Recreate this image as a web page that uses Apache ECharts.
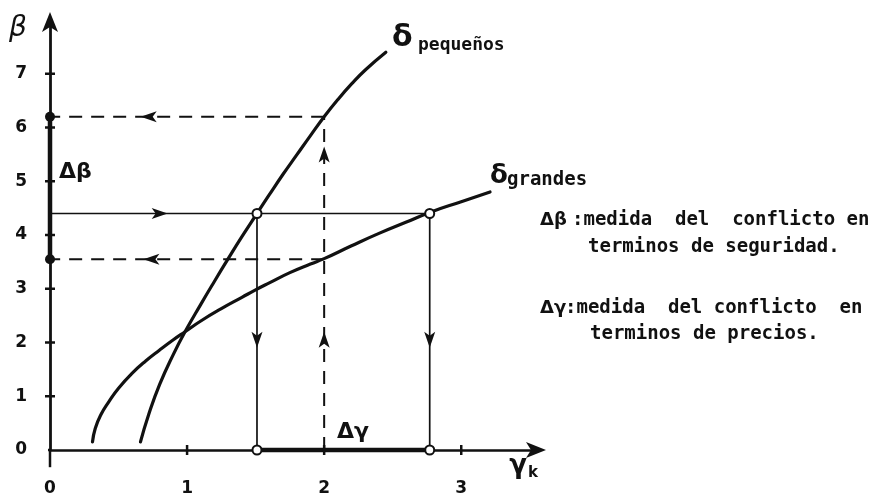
<!DOCTYPE html>
<html>
<head>
<meta charset="utf-8">
<script src="https://cdn.jsdelivr.net/npm/echarts@6/dist/echarts.min.js"></script>
<style>
  html, body { margin: 0; padding: 0; background: #fff; }
  #chart { width: 876px; height: 497px; }
</style>
</head>
<body>
<div id="chart"></div>
<script>
// tick values on both axes
var xTicks = [1, 2, 3];
var yTicks = [1, 2, 3, 4, 5, 6, 7];

// curves: [gamma_k, beta]
var deltaPequenos = [[0.66, 0.15], [0.72, 0.66], [0.8, 1.22], [0.9, 1.78], [0.985, 2.2], [1.1, 2.71],
	[1.2, 3.14], [1.3, 3.56], [1.4, 3.97], [1.51, 4.4], [1.6, 4.75], [1.7, 5.13], [1.8, 5.49],
	[1.9, 5.85], [2.0, 6.2], [2.1, 6.52], [2.2, 6.81], [2.3, 7.07], [2.45, 7.4]];
var deltaGrandes = [[0.31, 0.15], [0.33, 0.4], [0.37, 0.65], [0.43, 0.9], [0.5, 1.15], [0.6, 1.43],
	[0.7, 1.66], [0.8, 1.86], [0.9, 2.05], [0.985, 2.2], [1.1, 2.4], [1.25, 2.63], [1.4, 2.84],
	[1.5, 2.98], [1.6, 3.11], [1.75, 3.3], [1.9, 3.46], [2.0, 3.56], [2.2, 3.8], [2.4, 4.03],
	[2.6, 4.24], [2.77, 4.42], [3.0, 4.62], [3.21, 4.8]];

// construction levels
var gammaLow = 1.51;
var gammaHigh = 2.77;
var gammaPrice = 2;
var betaLevel = 4.4;
var betaHigh = 6.2;
var betaLow = 3.55;

// arrows: [gamma, beta, direction in degrees]
var arrows = [
	[0.8, betaLevel, 0],
	[gammaLow, 2.05, -90],
	[gammaHigh, 2.05, -90],
	[gammaPrice, 2.05, 90],
	[gammaPrice, 5.5, 90],
	[0.72, betaHigh, 180],
	[0.74, betaLow, 180]
];

var black = '#111';

function seg(a, b) {
	return [a, b];
}

var solidGuides = [
	seg([0, betaLevel], [gammaHigh, betaLevel]),
	seg([gammaLow, betaLevel], [gammaLow, 0]),
	seg([gammaHigh, betaLevel], [gammaHigh, 0])
];
var dashedGuides = [
	seg([gammaPrice, 0], [gammaPrice, betaHigh]),
	seg([gammaPrice, betaHigh], [0, betaHigh]),
	seg([gammaPrice, betaLow], [0, betaLow])
];
var thickGuides = [
	seg([0, betaLow], [0, betaHigh]),
	seg([gammaLow, 0], [gammaHigh, 0])
];

var series = [];

function addLines(list, width, type, z) {
	list.forEach(function (pts) {
		series.push({
			type: 'line',
			data: pts,
			symbol: 'none',
			clip: false,
			z: z,
			lineStyle: { color: black, width: width, type: type, cap: 'butt' },
			silent: true
		});
	});
}

// little overhang of the axes past the origin
addLines([seg([-0.09, 0], [0, 0]), seg([0, 0], [0, -0.32])], 2.5, 'solid', 2);
addLines(solidGuides, 1.7, 'solid', 3);
addLines(dashedGuides, 2, [13, 9], 3);
addLines(thickGuides, 4.5, 'solid', 4);

[deltaPequenos, deltaGrandes].forEach(function (curve) {
	series.push({
		type: 'line',
		data: curve,
		smooth: true,
		symbol: 'none',
		clip: false,
		z: 5,
		lineStyle: { color: black, width: 3.2, cap: 'round' }
	});
});

// crossing tick marks
series.push({
	type: 'scatter',
	data: xTicks.map(function (v) { return [v, 0]; }),
	symbol: 'rect',
	symbolSize: [2.5, 10],
	itemStyle: { color: black, opacity: 1 },
	z: 4
});
series.push({
	type: 'scatter',
	data: yTicks.map(function (v) { return [0, v]; }),
	symbol: 'rect',
	symbolSize: [10, 2.5],
	itemStyle: { color: black, opacity: 1 },
	z: 4
});

// arrow heads
series.push({
	type: 'scatter',
	data: arrows,
	symbol: 'path://M0,0L16,5L0,10L4,5Z',
	symbolSize: [16, 11],
	symbolRotate: function (v) { return v[2]; },
	itemStyle: { color: black, opacity: 1 },
	z: 6
});

// solid dots on the beta axis
series.push({
	type: 'scatter',
	data: [[0, betaHigh], [0, betaLow]],
	symbol: 'circle',
	symbolSize: 10,
	itemStyle: { color: black, opacity: 1 },
	z: 7
});
// open circles
series.push({
	type: 'scatter',
	data: [[gammaLow, betaLevel], [gammaHigh, betaLevel], [gammaLow, 0], [gammaHigh, 0]],
	symbol: 'circle',
	symbolSize: 9,
	itemStyle: { color: '#fff', borderColor: black, borderWidth: 2, opacity: 1 },
	z: 7
});

var font = 'DejaVu Sans';
var mono = 'DejaVu Sans Mono';

function txt(text, x, y, size, opts) {
	opts = opts || {};
	return {
		type: 'text',
		x: x,
		y: y,
		z: 10,
		style: {
			text: text,
			fill: black,
			font: (opts.style || 'normal') + ' ' + (opts.weight || 'bold') + ' ' + size + 'px "' + (opts.family || font) + '"',
			textAlign: opts.align || 'left',
			textVerticalAlign: 'middle'
		}
	};
}

var option = {
	animation: false,
	backgroundColor: '#fff',
	grid: {
		left: 50,
		right: 338,
		top: 20,
		bottom: 46
	},
	xAxis: {
		type: 'value',
		min: 0,
		max: 3.56,
		interval: 1,
		axisLine: {
			show: true,
			onZero: false,
			symbol: ['none', 'arrow'],
			symbolSize: [12, 20],
			symbolOffset: [0, 8],
			lineStyle: { color: black, width: 2.5 }
		},
		axisTick: { show: false },
		splitLine: { show: false },
		axisLabel: {
			showMaxLabel: false,
			margin: 30,
			color: black,
			fontFamily: font,
			fontWeight: 'bold',
			fontSize: 17
		}
	},
	yAxis: {
		type: 'value',
		min: 0,
		max: 8,
		interval: 1,
		axisLine: {
			show: true,
			onZero: false,
			symbol: ['none', 'arrow'],
			symbolSize: [12, 20],
			symbolOffset: [0, 8],
			lineStyle: { color: black, width: 2.8 }
		},
		axisTick: { show: false },
		splitLine: { show: false },
		axisLabel: {
			showMaxLabel: false,
			margin: 23,
			color: black,
			fontFamily: font,
			fontWeight: 'bold',
			fontSize: 17
		}
	},
	graphic: [
		txt('β', 18, 29, 28, { style: 'italic', weight: 'normal', align: 'center' }),
		txt('γ', 518, 466, 26, { align: 'center' }),
		txt('k', 533, 473, 15, { align: 'center' }),
		txt('Δβ', 59, 172, 22),
		txt('Δγ', 337, 432, 22),
		txt('δ', 392, 38, 30, { weight: 'bold' }),
		txt('pequeños', 418, 45, 18, { family: mono }),
		txt('δ', 490, 176, 26, { weight: 'bold' }),
		txt('grandes', 507, 180, 19, { family: mono }),
		txt('Δβ', 540, 220, 18),
		txt(':medida  del  conflicto en', 572, 220, 19, { family: mono }),
		txt('terminos de seguridad.', 588, 247, 19, { family: mono }),
		txt('Δγ', 540, 308, 18),
		txt(':medida  del conflicto  en', 565, 308, 19, { family: mono }),
		txt('terminos de precios.', 590, 334, 19, { family: mono })
	],
	series: series
};

echarts.init(document.getElementById('chart')).setOption(option);
</script>
</body>
</html>
